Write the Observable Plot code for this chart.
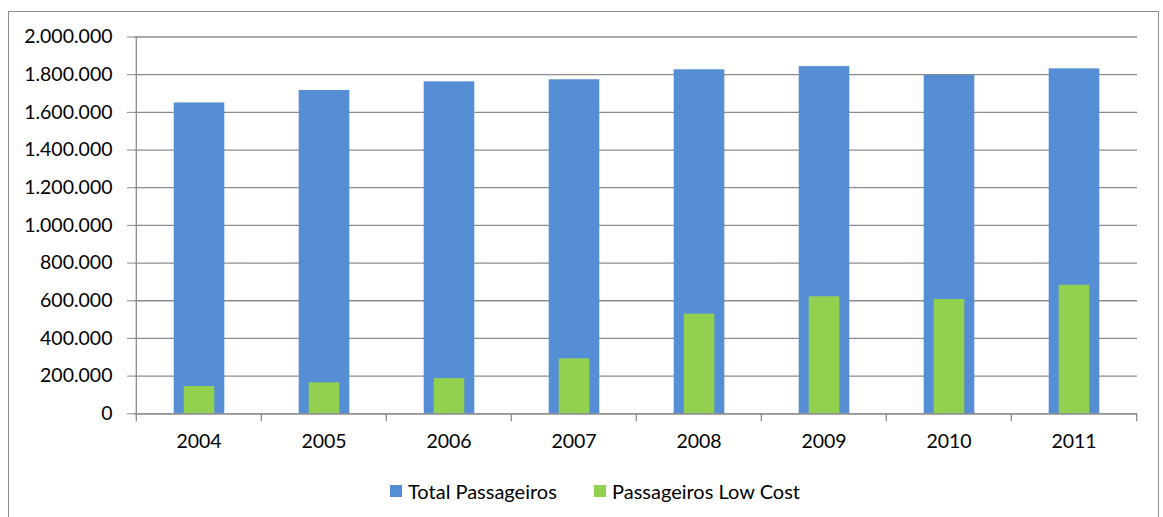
<!DOCTYPE html>
<html><head><meta charset="utf-8">
<script src="https://cdn.jsdelivr.net/npm/d3@7"></script>
<script src="https://cdn.jsdelivr.net/npm/@observablehq/plot@0.6"></script>
<style>
body{margin:0;background:#fff;font-family:Lato,"Open Sans",sans-serif;}
#wrap{position:relative;width:1163px;height:517px;overflow:hidden;background:#fff;}
#frame{position:absolute;left:8px;top:11px;width:1151px;height:530px;border:1px solid #8c8c8c;box-sizing:border-box;}
#chart{position:absolute;left:0;top:0;}
.leg{position:absolute;top:479px;display:flex;align-items:center;font-size:20px;color:#000;white-space:nowrap;}
.sw{width:12px;height:12px;margin-right:6px;}
</style></head>
<body>
<div id="wrap"><div id="frame"></div><div id="chart"></div></div>
<script>
const years = ["2004","2005","2006","2007","2008","2009","2010","2011"];
const totalPassageiros = [1650000,1716000,1762000,1773000,1826000,1843000,1796000,1831000];
const passageirosLowCost = [145000,164500,187000,292000,528700,621000,606700,682600];
const yTicks = [0,200000,400000,600000,800000,1000000,1200000,1400000,1600000,1800000,2000000];
const seriesNames = ["Total Passageiros","Passageiros Low Cost"];
const seriesColors = ["#558ED5","#92D050"];

const data = years.map((y,i)=>({year:y,total:totalPassageiros[i],low:passageirosLowCost[i]}));
const fmt = d3.formatLocale({decimal:",",thousands:".",grouping:[3],currency:["",""]}).format(",d");

const W = 1163, mL = 134, mR = 26;
const step = (W - mL - mR) / years.length;
const grid = "#8c8c8c";

const chart = Plot.plot({
  width: W, height: 460,
  marginLeft: mL, marginRight: mR, marginTop: 36.5, marginBottom: 46.7,
  x: {type:"band", domain: years, padding: 0, label: null},
  y: {domain: [0, 2000000], label: null},
  style: {fontFamily: "Lato, 'Open Sans', sans-serif", fontSize: "19.5px", color: "#000", background: "transparent"},
  marks: [
    Plot.gridY(yTicks, {stroke: grid, strokeOpacity: 1, strokeWidth: 1.3}),
    Plot.axisY(yTicks, {tickSize: 7, tickPadding: 15, stroke: grid, strokeOpacity: 1, tickFormat: fmt, fontSize: 19.5, fill: "#000"}),
    Plot.barY(data, {x: "year", y: "total", fill: seriesColors[0], insetLeft: 37.7, insetRight: 36.7}),
    Plot.barY(data, {x: "year", y: "low", fill: seriesColors[1], insetLeft: 47.7, insetRight: 46.7}),
    Plot.ruleX([years[0]], {y1: 0, y2: 2000000, dx: -step/2, stroke: grid, strokeWidth: 1.3}),
    Plot.ruleY([0], {stroke: grid, strokeWidth: 1.3}),
    Plot.axisX(years, {tickSize: 8, tickFormat: () => "", dx: -step/2, stroke: grid, strokeOpacity: 1, strokeWidth: 1.3}),
    Plot.axisX([years[years.length-1]], {tickSize: 8, tickFormat: () => "", dx: step/2, stroke: grid, strokeOpacity: 1, strokeWidth: 1.3}),
    Plot.axisX(years, {tickSize: 0, tickPadding: 20, fontSize: 19.5, fill: "#000"})
  ]
});
document.getElementById("chart").appendChild(chart);

const legLeft = [390, 594];
const wrap = document.getElementById("wrap");
seriesNames.forEach((n,i)=>{
  const d = document.createElement("div");
  d.className = "leg";
  d.style.left = legLeft[i] + "px";
  d.innerHTML = `<div class="sw" style="background:${seriesColors[i]}"></div><span>${n}</span>`;
  wrap.appendChild(d);
});
</script>
</body></html>
